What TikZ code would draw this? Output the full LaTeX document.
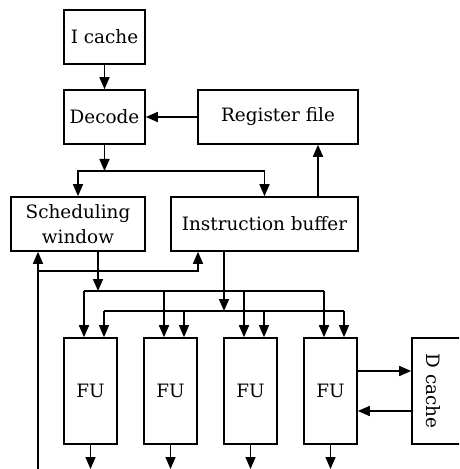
\documentclass[tikz,border=0pt]{standalone}
\usepackage{fontspec}
\setmainfont{DejaVu Serif}
\usetikzlibrary{arrows.meta}

\begin{document}
\begin{tikzpicture}[x=0.5pt, y=-0.5pt, line width=0.8pt,
  >={Triangle[length=6pt,width=5pt]},
  unit/.style={draw, line width=0.8pt, inner sep=0pt, align=center,
    font=\fontsize{9.2}{12.5}\selectfont},
  fu/.style={unit, minimum width=26.5pt, minimum height=53pt}]
\clip (0,0) rectangle (459,469);

% front end
\node[unit, minimum width=40.5pt, minimum height=27pt] (icache) at (104.5,37) {I cache};
\node[unit, minimum width=40.5pt, minimum height=27pt] (decode) at (104.5,117) {Decode};
\node[unit, minimum width=80pt, minimum height=27pt] (regfile) at (278,117) {Register file};
\node[unit, minimum width=67pt, minimum height=27pt] (sched) at (78,224) {Scheduling\\window};
\node[unit, minimum width=93.5pt, minimum height=27pt] (ibuf) at (264.5,224) {Instruction buffer};

% functional units
\foreach \i in {1,...,4} {
    \node[fu] (fu\i) at (90.5+80*\i-80, 391) {FU};
}
\node[unit, minimum width=30pt, minimum height=53pt] (dcache) at (442,391) {};
\node[rotate=-90, font=\fontsize{9.2}{12.5}\selectfont] (dcachetext) at (433,391) {D cache};

\coordinate (split) at (0,171);
\coordinate (fb) at (0,271);
\coordinate (busA) at (0,291);
\coordinate (busB) at (0,311);
\coordinate (ground) at (38,469);

\draw[->] (icache) -- (decode);
\draw[->] (regfile) -- (decode);
\draw[->] (decode) -- (decode.south |- split);
\draw[->] (decode.south |- split) -| (sched.north);
\draw[->] (decode.south |- split) -| (ibuf.north);
\draw[->] ([xshift=20pt]regfile.south |- ibuf.north) -- ([xshift=20pt]regfile.south);

% results back into the window and the buffer
\draw[->] (ground) -- ([xshift=-20pt]sched.south);
\draw[->] (ground |- fb) -| ([xshift=-33.25pt]ibuf.south);

% issue buses
\draw[->] ([xshift=10pt]sched.south) -- ([xshift=10pt]sched.south |- busA);
\draw[->] ([xshift=-20.25pt]ibuf.south) -- ([xshift=-20.25pt]ibuf.south |- busB);
\draw ([xshift=-3.25pt]fu1.north |- busA) -- ([xshift=-3.25pt]fu4.north |- busA);
\draw ([xshift=6.75pt]fu1.north |- busB) -- ([xshift=6.75pt]fu4.north |- busB);
\foreach \i in {1,...,4} {
    \draw[->] ([xshift=-3.25pt]fu\i.north |- busA) -- ([xshift=-3.25pt]fu\i.north);
    \draw[->] ([xshift=6.75pt]fu\i.north |- busB) -- ([xshift=6.75pt]fu\i.north);
    \draw[->] (fu\i) -- (fu\i.south |- ground);
}

\draw[->] ([yshift=10pt]fu4.east) -- ([yshift=10pt]fu4.east -| dcache.west);
\draw[->] ([yshift=-10pt]fu4.east -| dcache.west) -- ([yshift=-10pt]fu4.east);
\end{tikzpicture}
\end{document}
